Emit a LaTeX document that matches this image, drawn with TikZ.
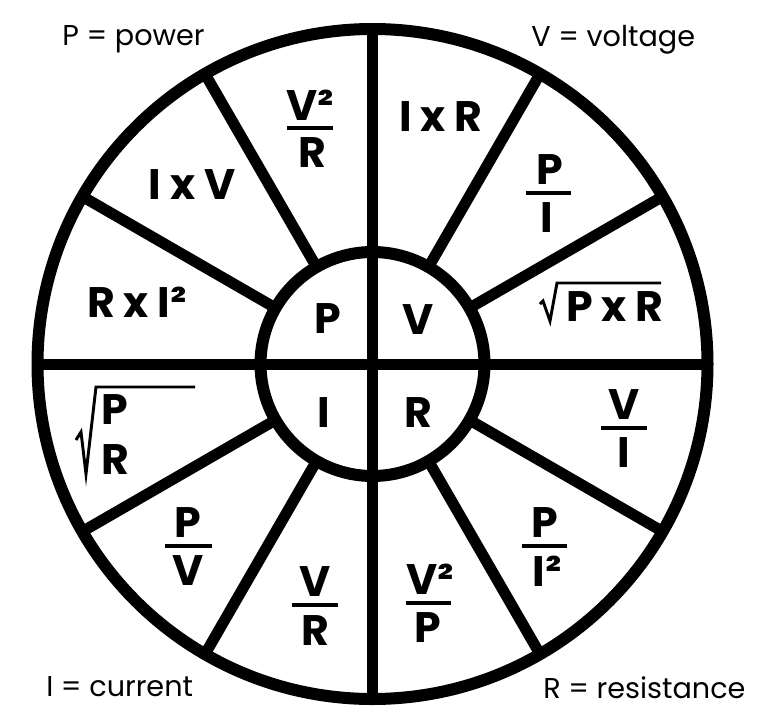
\documentclass[tikz,border=0pt]{standalone}
\usepackage{fontspec}
\setmainfont{Poppins}
\usetikzlibrary{positioning}

\begin{document}
\begin{tikzpicture}[x=0.75pt,y=-0.75pt,
    ring/.style={line width=9pt},
    spoke/.style={line width=8.25pt},
    bar/.style={line width=3pt},
    root/.style={line width=2.2pt, line join=miter},
    term/.style={font=\fontsize{32}{32}\selectfont\bfseries, inner sep=0pt},
    legend/.style={font=\fontsize{21.5}{21.5}\selectfont, inner sep=0pt, anchor=base west}]
    \useasboundingbox (0,0) rectangle (768,726);
    \coordinate (O) at (372.5,364);

    % wheel
    \draw[ring] (O) circle[radius=335];
    \draw[ring] (O) circle[radius=112];
    \draw[spoke] ([shift={(90:335)}]O) -- ([shift={(270:335)}]O);
    \draw[spoke] ([shift={(0:335)}]O) -- ([shift={(180:335)}]O);
    \foreach \a in {30,60,120,150,210,240,300,330}
        \draw[spoke] ([shift={(\a:112)}]O) -- ([shift={(\a:335)}]O);

    % legend
    \node[legend] (pow) at (62,45) {P = power};
    \node[legend] (vol) at (531,46) {V = voltage};
    \node[legend] (cur) at (46,696) {I = current};
    \node[legend] (res) at (543,698) {R = resistance};

    % inner circle
    \node[term] (p) at (328,319) {P};
    \node[term] (v) at (418,320) {V};
    \node[term] (i) at (324,413) {I};
    \node[term] (r) at (418,413) {R};

    % P
    \node[term] (vsq1) at (310,105) {V²};
    \node[term] (r1) at (312,153) {R};
    \draw[bar] (287,128) -- (333,128);
    \node[term] (ixv) at (192,185) {I x V};
    \node[term] (rxi) at (137,302) {R x I²};

    % V
    \node[term] (ixr) at (441,117) {I x R};
    \node[term] (p2) at (550,170) {P};
    \node[term] (i2) at (547,218) {I};
    \draw[bar] (526,193) -- (571,193);
    \node[term] (pxr) at (615,307) {P x R};
    \draw[root] (540,304) -- (543,301) -- (550,321) -- (557,283) -- (661,283);

    % R
    \node[term] (v3) at (624,405) {V};
    \node[term] (i3) at (624,453) {I};
    \draw[bar] (601,428) -- (647,428);
    \node[term] (p3) at (545,523) {P};
    \node[term] (isq3) at (547,571) {I²};
    \draw[bar] (522,546) -- (567,546);
    \node[term] (vsq3) at (430,579) {V²};
    \node[term] (p4) at (428,628) {P};
    \draw[bar] (406,603) -- (451,603);

    % I
    \node[term] (v5) at (315,582) {V};
    \node[term] (r5) at (315,631) {R};
    \draw[bar] (292,605) -- (338,605);
    \node[term] (p6) at (188,523) {P};
    \node[term] (v6) at (188,571) {V};
    \draw[bar] (165,546) -- (212,546);
    \node[term] (p7) at (115,410) {P};
    \node[term] (r7) at (115,460) {R};
    \draw[root] (76,440) -- (81,432) -- (86,474) -- (96,387) -- (195,387);
\end{tikzpicture}
\end{document}
